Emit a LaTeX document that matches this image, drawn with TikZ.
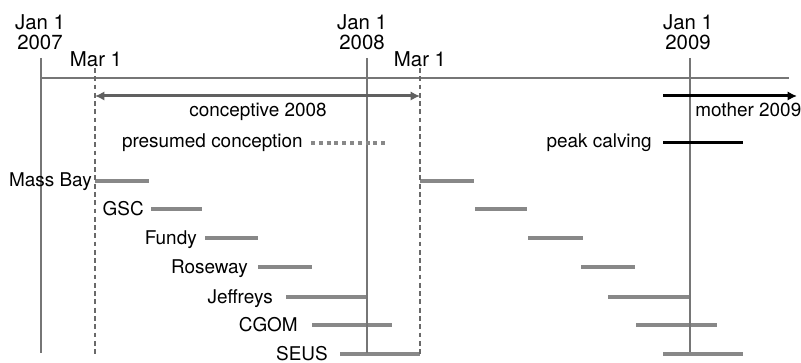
\documentclass[tikz,border=0pt]{standalone}
\usepackage{fontspec}
\setmainfont{TeX Gyre Heros}
\usetikzlibrary{arrows.meta}

\definecolor{axisgray}{RGB}{118,118,118}
\definecolor{dashgray}{RGB}{105,105,105}
\definecolor{bargray}{RGB}{136,136,136}
\definecolor{arrowgray}{RGB}{96,96,96}

\tikzset{
  yearline/.style={draw=axisgray,line width=1.1pt},
  marline/.style={draw=dashgray,line width=0.8pt,dash pattern=on 3.6pt off 2.6pt},
  window/.style={draw=bargray,line width=3pt},
  spanarrow/.style={line width=2.25pt,arrows={-Latex[length=7pt,width=7pt]}},
  lbl/.style={inner sep=0pt,font=\fontsize{14.2}{14.2}\selectfont},
  datelbl/.style={inner sep=0pt,align=center,font=\fontsize{15.3}{15}\selectfont},
}

\begin{document}
\begin{tikzpicture}[x=0.75pt,y=0.75pt,yscale=-1,xscale=1]
\useasboundingbox (0,0) rectangle (801,363);

%Coordinates of the time axis
\coordinate (jan07) at (41,58);
\coordinate (jan08) at (367,58);
\coordinate (jan09) at (690,58);
\coordinate (marA) at (95,68);
\coordinate (marB) at (420,68);
\coordinate (axisL) at (41,78);
\coordinate (axisR) at (789,78);

%Windows, conceptive year
\draw [window] (95,181) -- (149,181);
\draw [window] (151,209) -- (202,209);
\draw [window] (205,238) -- (258,238);
\draw [window] (258,267) -- (312,267);
\draw [window] (286,297) -- (367,297);
\draw [window] (312,325) -- (392,325);
\draw [window] (340,354) -- (420,354);
%Windows, calving year
\draw [window] (420,181) -- (474,181);
\draw [window] (475,209) -- (527,209);
\draw [window] (528,238) -- (583,238);
\draw [window] (581,267) -- (635,267);
\draw [window] (608,297) -- (690,297);
\draw [window] (636,325) -- (717,325);
\draw [window] (663,354) -- (743,354);

%Straight Lines
\draw [yearline] (axisL) -- (axisR);
\draw [yearline] (jan07) -- (41,353);
\draw [yearline] (jan08) -- (367,353);
\draw [yearline] (jan09) -- (690,352);
\draw [marline] (marA) -- (95,356);
\draw [marline] (marB) -- (420,356);

%Arrows
\coordinate (concA) at (95,96);
\coordinate (concB) at (420,96);
\draw [spanarrow,draw=arrowgray,fill=arrowgray,arrows={Latex[length=7pt,width=7pt]-Latex[length=7pt,width=7pt]}] (concA) -- (concB);
\coordinate (mothA) at (663,96);
\coordinate (mothB) at (797,96);
\draw [spanarrow,draw=black] (mothA) -- (mothB);
\coordinate (presA) at (311,143);
\coordinate (presB) at (389,143);
\draw [draw=bargray,line width=3pt,dash pattern=on 3pt off 2.85pt] (presA) -- (presB);
\coordinate (peakA) at (663,143);
\coordinate (peakB) at (743,143);
\draw [draw=black,line width=2.25pt] (peakA) -- (peakB);

% Text Node
\node [datelbl,anchor=south] (d07) at (40,50) {Jan 1\\2007};
\node [datelbl,anchor=south] (d08) at (362,50) {Jan 1\\2008};
\node [datelbl,anchor=south] (d09) at (688,50) {Jan 1\\2009};
\node [datelbl,anchor=base] (mA) at (96,67) {Mar 1};
\node [datelbl,anchor=base] (mB) at (420,67) {Mar 1};
% Text Node
\node [lbl,anchor=base] (conc) at (258,117) {conceptive 2008};
\node [lbl,anchor=base west] (moth) at (695,117) {mother 2009};
\node [lbl,anchor=base east] (pres) at (303,148) {presumed conception};
\node [lbl,anchor=base east] (peak) at (652,148) {peak calving};
% Text Node
\node [lbl,anchor=base east] (massbay) at (92,187) {Mass Bay};
\node [lbl,anchor=base east] (gsc) at (144,215.5) {GSC};
\node [lbl,anchor=base east] (fundy) at (197,244.5) {Fundy};
\node [lbl,anchor=base east] (roseway) at (248,273.5) {Roseway};
\node [lbl,anchor=base east] (jeffreys) at (273,303.5) {Jeffreys};
\node [lbl,anchor=base east] (cgom) at (298,331.5) {CGOM};
\node [lbl,anchor=base east] (seus) at (328,360.5) {SEUS};

\end{tikzpicture}
\end{document}
